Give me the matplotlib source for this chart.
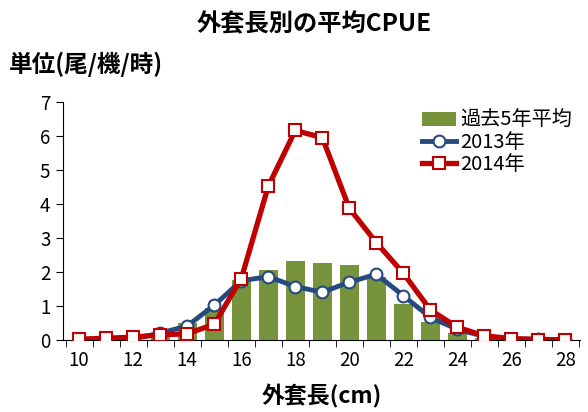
import numpy as np
import matplotlib.pyplot as plt

plt.rcParams['font.family'] = ['Noto Sans CJK JP', 'DejaVu Sans']

# mantle length (cm) categories
lengths = list(range(10, 29))
# 5-year average CPUE (bars)
avg5 = [0, 0, 0, 0.1, 0.49, 0.95, 1.76, 2.06, 2.33, 2.25, 2.2, 1.85, 1.05, 0.53, 0.21, 0.05, 0, 0, 0]
# 2013 CPUE
cpue2013 = [0, 0.02, 0.03, 0.2, 0.41, 1.02, 1.74, 1.86, 1.57, 1.40, 1.70, 1.93, 1.30, 0.66, 0.31, 0.10, 0.03, 0.02, 0.01]
# 2014 CPUE
cpue2014 = [0.02, 0.05, 0.08, 0.15, 0.18, 0.46, 1.80, 4.52, 6.16, 5.95, 3.87, 2.86, 1.96, 0.88, 0.37, 0.12, 0.04, 0.01, 0.0]

green = '#77933C'
blue = '#254A7F'
red = '#C00000'

fig = plt.figure(figsize=(5.88, 4.12), dpi=100)
ax = fig.add_axes([0.107, 0.175, 0.88, 0.5776])

x = np.arange(len(lengths))
b = ax.bar(x, avg5, width=0.7, color=green, label='過去5年平均', zorder=1)
l13, = ax.plot(x, cpue2013, color=blue, lw=3.5, marker='o', ms=8.5, mfc='white', mec=blue, mew=1.5,
               label='2013年', zorder=2)
l14, = ax.plot(x, cpue2014, color=red, lw=3.8, marker='s', ms=8, mfc='white', mec=red, mew=1.5,
               label='2014年', zorder=3)

ax.set_xlim(-0.6, len(lengths) - 0.45)
ax.set_ylim(0, 7)
ax.set_yticks(range(0, 8))
ax.set_xticks(x[::2])
ax.set_xticklabels([str(v) for v in lengths[::2]])
ax.set_xticks(np.arange(-0.5, len(lengths), 1), minor=True)
ax.tick_params(axis='x', which='major', length=0, labelsize=13.5, pad=7)
ax.tick_params(axis='x', which='minor', length=5, direction='out')
ax.tick_params(axis='y', length=5, direction='out', labelsize=13.5, pad=4)

for s in ['top', 'right']:
    ax.spines[s].set_visible(False)

ax.set_xlabel('外套長(cm)', fontsize=16.5, fontweight='bold', labelpad=10)
fig.text(0.535, 0.94, '外套長別の平均CPUE', ha='center', va='center', fontsize=17.5, fontweight='bold')
fig.text(0.015, 0.845, '単位(尾/機/時)', ha='left', va='center', fontsize=17, fontweight='bold')

leg = ax.legend([b, l13, l14], ['過去5年平均', '2013年', '2014年'], loc='upper right',
                bbox_to_anchor=(1.0, 1.0), frameon=False, fontsize=14.5,
                handlelength=1.7, handletextpad=0.2, labelspacing=0.05, borderaxespad=0.0)

fig.savefig('out.png', dpi=100)
